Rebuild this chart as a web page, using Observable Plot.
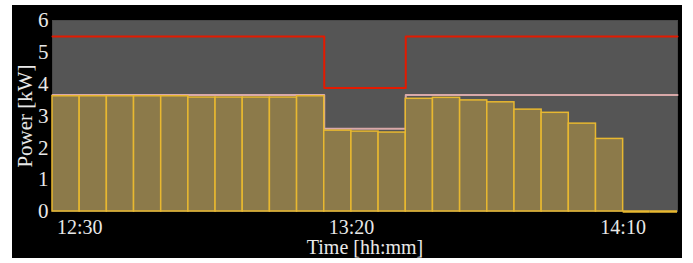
<!DOCTYPE html>
<html>
<head>
<meta charset="utf-8">
<script src="https://cdn.jsdelivr.net/npm/d3@7"></script>
<script src="https://cdn.jsdelivr.net/npm/@observablehq/plot@0.6"></script>
<style>
  html, body { margin: 0; padding: 0; background: #ffffff; }
  #wrap { position: absolute; left: 12px; top: 5px; width: 670px; height: 253px; background: #000; }
</style>
</head>
<body>
<div id="wrap"></div>
<script>
const barStart = ["12:25","12:30","12:35","12:40","12:45","12:50","12:55","13:00","13:05","13:10","13:15","13:20","13:25","13:30","13:35","13:40","13:45","13:50","13:55","14:00","14:05","14:10","14:15"];
const barEnd   = ["12:30","12:35","12:40","12:45","12:50","12:55","13:00","13:05","13:10","13:15","13:20","13:25","13:30","13:35","13:40","13:45","13:50","13:55","14:00","14:05","14:10","14:15","14:20"];
const power    = [3.62,3.62,3.62,3.62,3.62,3.58,3.58,3.58,3.58,3.62,2.54,2.51,2.48,3.54,3.57,3.49,3.43,3.20,3.10,2.76,2.28,0,0];

const limitTimes  = ["12:25","13:15","13:30","14:20"];
const limitValues = [5.5, 3.88, 5.5, 5.5];
const refTimes    = ["12:25","13:15","13:30","14:20"];
const refValues   = [3.66, 2.60, 3.66, 3.66];

const xDomain = ["12:25","14:20"];
const xTicks  = ["12:30","13:20","14:10"];
const yTicks  = [0,1,2,3,4,5,6];

const parse = d3.utcParse("%H:%M");
const bars = barStart.map((s, i) => ({start: parse(s), end: parse(barEnd[i]), value: power[i]}));
const limit = limitTimes.map((t, i) => ({t: parse(t), v: limitValues[i]}));
const ref = refTimes.map((t, i) => ({t: parse(t), v: refValues[i]}));

const barFill = "#8c7a4a", barStroke = "#e8b830";
const serif = "'Liberation Serif', 'Times New Roman', Times, serif";

const chart = Plot.plot({
  width: 670,
  height: 253,
  marginLeft: 40,
  marginRight: 5,
  marginTop: 15,
  marginBottom: 47,
  style: {background: "#000", color: "#e8e8e8", fontSize: "20px", fontFamily: serif},
  x: {type: "utc", domain: xDomain.map(parse)},
  y: {domain: [0, 6]},
  marks: [
    Plot.frame({fill: "#555555", stroke: "#4a4a4a"}),
    Plot.line(ref, {x: "t", y: "v", curve: "step-after", stroke: "#d9a9a9", strokeWidth: 2}),
    Plot.rectY(bars.filter(d => d.value > 0), {x1: "start", x2: "end", y: "value", fill: barFill, stroke: barStroke, strokeWidth: 1.5, inset: 0}),
    Plot.ruleY(bars.filter(d => d.value === 0), {x1: "start", x2: "end", y: "value", stroke: barStroke, strokeWidth: 2.5}),
    Plot.line(limit, {x: "t", y: "v", curve: "step-after", stroke: "#e41a00", strokeWidth: 2}),
    Plot.axisX({ticks: xTicks.map(parse), tickFormat: d3.utcFormat("%H:%M"), tickSize: 0, tickPadding: 8,
      label: "Time [hh:mm]", labelAnchor: "center", labelArrow: false, labelOffset: 42, fontSize: 20}),
    Plot.axisY({ticks: yTicks, tickSize: 0, tickPadding: 4, tickFormat: d => d,
      label: "Power [kW]", labelAnchor: "center", labelArrow: false, labelOffset: 35, fontSize: 21})
  ]
});
d3.select(chart).attr("font-family", serif).style("font-family", serif);
d3.select(chart).selectAll("g, text").attr("font-family", null).style("font-family", serif);
document.getElementById("wrap").appendChild(chart);
</script>
</body>
</html>
